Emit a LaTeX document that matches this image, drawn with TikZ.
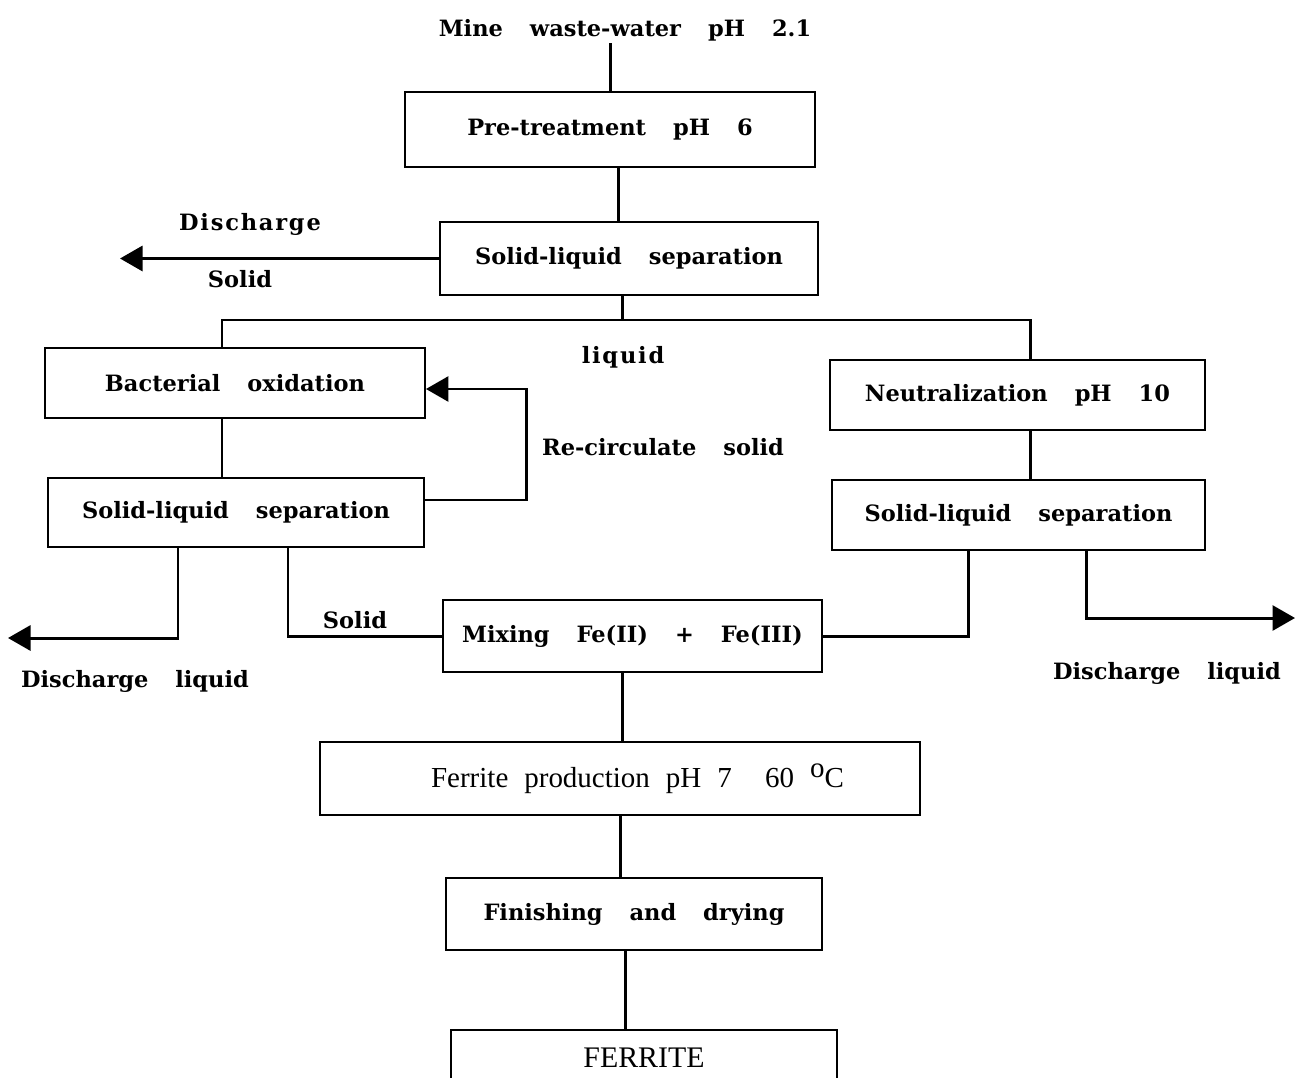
\documentclass[tikz,border=0pt]{standalone}
\usepackage{fontspec}
\setmainfont{Liberation Serif}
\newfontfamily\flowface{DejaVu Serif}
\newfontfamily\wideface[LetterSpace=8]{DejaVu Serif}
\usetikzlibrary{arrows.meta}
\newcommand{\flowfont}{\flowface\fontsize{12.8}{16}\selectfont\bfseries\spaceskip=1.2em plus 0.1em\relax}
\newcommand{\widefont}{\wideface\fontsize{12.8}{16}\selectfont\bfseries\spaceskip=1.2em plus 0.1em\relax}
\newcommand{\plainfont}{\fontsize{16.5}{19}\selectfont\mdseries\spaceskip=0.55em plus 0.1em\relax}
\tikzset{
	box/.style={draw, line width=1.1pt, rectangle, inner sep=0pt},
	link/.style={line width=1.7pt},
	outflow/.style={link, -{Triangle[length=4.5mm,width=5mm]}},
	lbl/.style={inner sep=1pt},
}

\begin{document}
\begin{tikzpicture}[font=\flowfont]
		%%%%% START %%%%%
		\useasboundingbox[fill=white] (0, 0) rectangle (25.9, -21.54);
		
		% feed
		\node[lbl] (src) at (12.5, -0.6) {Mine waste-water pH 2.1};
		\node[box, minimum width=8.2cm, minimum height=1.5cm] (pre) at (12.2, -2.59) {Pre-treatment pH 6};
		\node[box, minimum width=7.56cm, minimum height=1.46cm] (sls1) at (12.58, -5.17) {Solid-liquid separation};
		
		% left branch
		\node[box, minimum width=7.6cm, minimum height=1.4cm] (bact) at (4.7, -7.66) {Bacterial oxidation};
		\node[box, minimum width=7.52cm, minimum height=1.38cm] (sls2) at (4.72, -10.25) {Solid-liquid separation};
		
		% right branch
		\node[box, minimum width=7.5cm, minimum height=1.4cm] (neut) at (20.35, -7.9) {Neutralization pH 10};
		\node[box, minimum width=7.46cm, minimum height=1.4cm] (sls3) at (20.37, -10.3) {Solid-liquid separation};
		
		% product line
		\node[box, minimum width=7.58cm, minimum height=1.44cm] (mix) at (12.65, -12.72) {Mixing Fe(II) + Fe(III)};
		\node[box, minimum width=12cm, minimum height=1.46cm, font=\plainfont] (ferr) at (12.4, -15.57) {\hspace{0.7cm}Ferrite production pH 7\hspace{0.6em} 60 \raisebox{0.75ex}{o}C};
		\node[box, minimum width=7.52cm, minimum height=1.44cm] (fin) at (12.68, -18.28) {Finishing and drying};
		\node[box, minimum width=7.72cm, minimum height=1.12cm, font=\plainfont\fontsize{17}{20}\selectfont] (prod) at (12.88, -21.16) {FERRITE};
		
		% free ends
		\coordinate (dsol) at (2.4, -5.17);
		\coordinate (split) at (12.44, -6.4);
		\coordinate (recirc) at (10.52, -9);
		\coordinate (dliqL) at (0.16, -12.76);
		\coordinate (dliqR) at (25.9, -12.36);
		
		% connectors
		\draw[link] (pre.north) -- (pre.north |- src.south);
		\draw[link] ([xshift=0.16cm]pre.south) -- ([xshift=0.16cm]pre.south |- sls1.north);
		\draw[outflow] (sls1.west) -- (dsol);
		\draw[link] (split |- sls1.south) -- (split);
		\draw[link] ([xshift=-0.26cm]bact.north) |- (split) -| ([xshift=0.25cm]neut.north);
		\draw[link] ([xshift=-0.26cm]bact.south) -- ([xshift=-0.26cm]bact.south |- sls2.north);
		\draw[outflow] ([yshift=0.25cm]sls2.east) -| (recirc) |- ([yshift=-0.12cm]bact.east);
		\draw[outflow] ([xshift=-1.16cm]sls2.south) |- (dliqL);
		\draw[link] ([xshift=1.04cm]sls2.south) |- (mix.west);
		\draw[link] ([xshift=0.25cm]neut.south) -- ([xshift=0.25cm]neut.south |- sls3.north);
		\draw[link] ([xshift=-1.01cm]sls3.south) |- (mix.east);
		\draw[outflow] ([xshift=1.35cm]sls3.south) |- (dliqR);
		\draw[link] ([xshift=-0.21cm]mix.south) -- ([xshift=-0.21cm]mix.south |- ferr.north);
		\draw[link] (ferr.south) -- (ferr.south |- fin.north);
		\draw[link] ([xshift=-0.18cm]fin.south) -- ([xshift=-0.18cm]fin.south |- prod.north);
		
		% labels
		\node[lbl, font=\widefont] (lDis) at (5.0, -4.48) {Discharge};
		\node[lbl] (lSol) at (4.8, -5.58) {Solid};
		\node[lbl, font=\widefont] (lLiq) at (12.46, -7.14) {liquid};
		\node[lbl] (lRec) at (13.26, -8.94) {Re-circulate solid};
		\node[lbl] (lSol2) at (7.1, -12.4) {Solid};
		\node[lbl] (lDisL) at (2.7, -13.62) {Discharge liquid};
		\node[lbl] (lDisR) at (23.34, -13.46) {Discharge liquid};
		
		%%%%% END %%%%%
\end{tikzpicture}
\end{document}
